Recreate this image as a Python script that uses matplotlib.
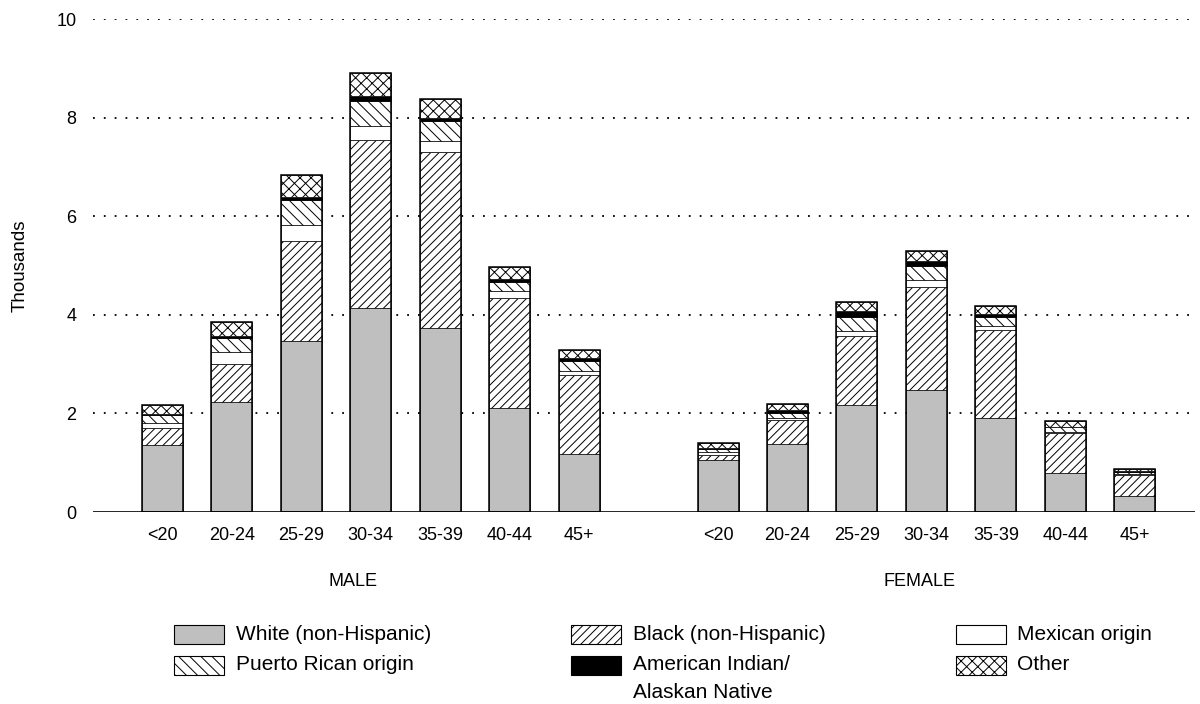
import numpy as np
import matplotlib.pyplot as plt
from matplotlib.patches import Rectangle

plt.rcParams['font.family'] = ['Liberation Sans', 'DejaVu Sans']
plt.rcParams['font.size'] = 12
plt.rcParams['hatch.linewidth'] = 0.7

ages = ['<20', '20-24', '25-29', '30-34', '35-39', '40-44', '45+']
groups = ['MALE', 'FEMALE']
series = ['White (non-Hispanic)', 'Black (non-Hispanic)', 'Mexican origin',
          'Puerto Rican origin', 'American Indian/\nAlaskan Native', 'Other']

# thousands, per age group
male_white = [1.36, 2.23, 3.47, 4.14, 3.73, 2.10, 1.17]
male_black = [0.34, 0.77, 2.02, 3.41, 3.57, 2.25, 1.61]
male_mexican = [0.11, 0.24, 0.33, 0.27, 0.22, 0.13, 0.08]
male_puerto = [0.16, 0.28, 0.50, 0.52, 0.41, 0.19, 0.20]
male_amind = [0.01, 0.05, 0.07, 0.10, 0.06, 0.05, 0.06]
male_other = [0.20, 0.29, 0.44, 0.47, 0.39, 0.25, 0.16]

female_white = [1.05, 1.37, 2.18, 2.48, 1.91, 0.80, 0.32]
female_black = [0.11, 0.50, 1.40, 2.08, 1.78, 0.80, 0.43]
female_mexican = [0.06, 0.03, 0.10, 0.14, 0.08, 0.02, 0.02]
female_puerto = [0.05, 0.11, 0.28, 0.29, 0.19, 0.10, 0.05]
female_amind = [0.03, 0.06, 0.12, 0.10, 0.06, 0.01, 0.01]
female_other = [0.10, 0.13, 0.19, 0.20, 0.15, 0.12, 0.04]

styles = [dict(facecolor='#bfbfbf', hatch=None),
          dict(facecolor='white', hatch='////'),
          dict(facecolor='white', hatch=None),
          dict(facecolor='white', hatch='\\\\\\'),
          dict(facecolor='black', hatch=None),
          dict(facecolor='white', hatch='xxx')]

male = np.array([male_white, male_black, male_mexican, male_puerto, male_amind, male_other])
female = np.array([female_white, female_black, female_mexican, female_puerto, female_amind, female_other])

fig = plt.figure(figsize=(12, 7.04), dpi=100)
ax = fig.add_axes([0.0775, 0.2727, 0.9185, 0.7003])

width = 0.59
for data, x0 in [(male, 0), (female, 8)]:
    x = np.arange(len(ages)) + x0
    bottom = np.zeros(len(ages))
    for vals, st in zip(data, styles):
        ax.bar(x, vals, width, bottom=bottom, facecolor=st['facecolor'],
               hatch=st['hatch'], edgecolor='black', linewidth=0.5, zorder=3)
        bottom += vals
    ax.bar(x, bottom, width, fill=False, edgecolor='black', linewidth=1.1, zorder=4)

ax.set_xlim(-1, 14.87)
ax.set_ylim(0, 10)
ax.set_yticks([0, 2, 4, 6, 8, 10])
ax.set_xticks(list(range(7)) + list(range(8, 15)))
ax.set_xticklabels(ages + ages)
ax.tick_params(length=0, labelsize=13)
ax.tick_params(axis='y', pad=12)
ax.tick_params(axis='x', pad=11)
for s in ax.spines.values():
    s.set_visible(False)
ax.axhline(0, color='black', linewidth=1.2, zorder=5)
for yv in [2, 4, 6, 8, 10]:
    ax.axhline(yv, color='black', linewidth=1.3, linestyle=(0, (1, 5)), zorder=1)
ax.set_ylabel('Thousands', fontsize=13.5, labelpad=20)

ax.text(2.75, -1.4, groups[0], ha='center', va='center', fontsize=13)
ax.text(10.9, -1.4, groups[1], ha='center', va='center', fontsize=13)

# legend, laid out in three columns
cols_px = [174, 571, 956]
text_px = [236, 633, 1017]
rows_px = [634, 665]
order = [[0, 3], [1, 4], [2, 5]]
W, H = 1200, 704
for c in range(3):
    for r in range(2):
        i = order[c][r]
        st = styles[i]
        fig.add_artist(Rectangle((cols_px[c] / W, 1 - (rows_px[r] + 9.5) / H), 50 / W, 19 / H,
                                 transform=fig.transFigure, facecolor=st['facecolor'],
                                 hatch=st['hatch'], edgecolor='black', linewidth=0.8))
        lines = series[i].split('\n')
        for k, line in enumerate(lines):
            fig.text(text_px[c] / W, 1 - (rows_px[r] + 27 * k) / H, line,
                     ha='left', va='center', fontsize=15)

fig.savefig('out.png', dpi=100)
